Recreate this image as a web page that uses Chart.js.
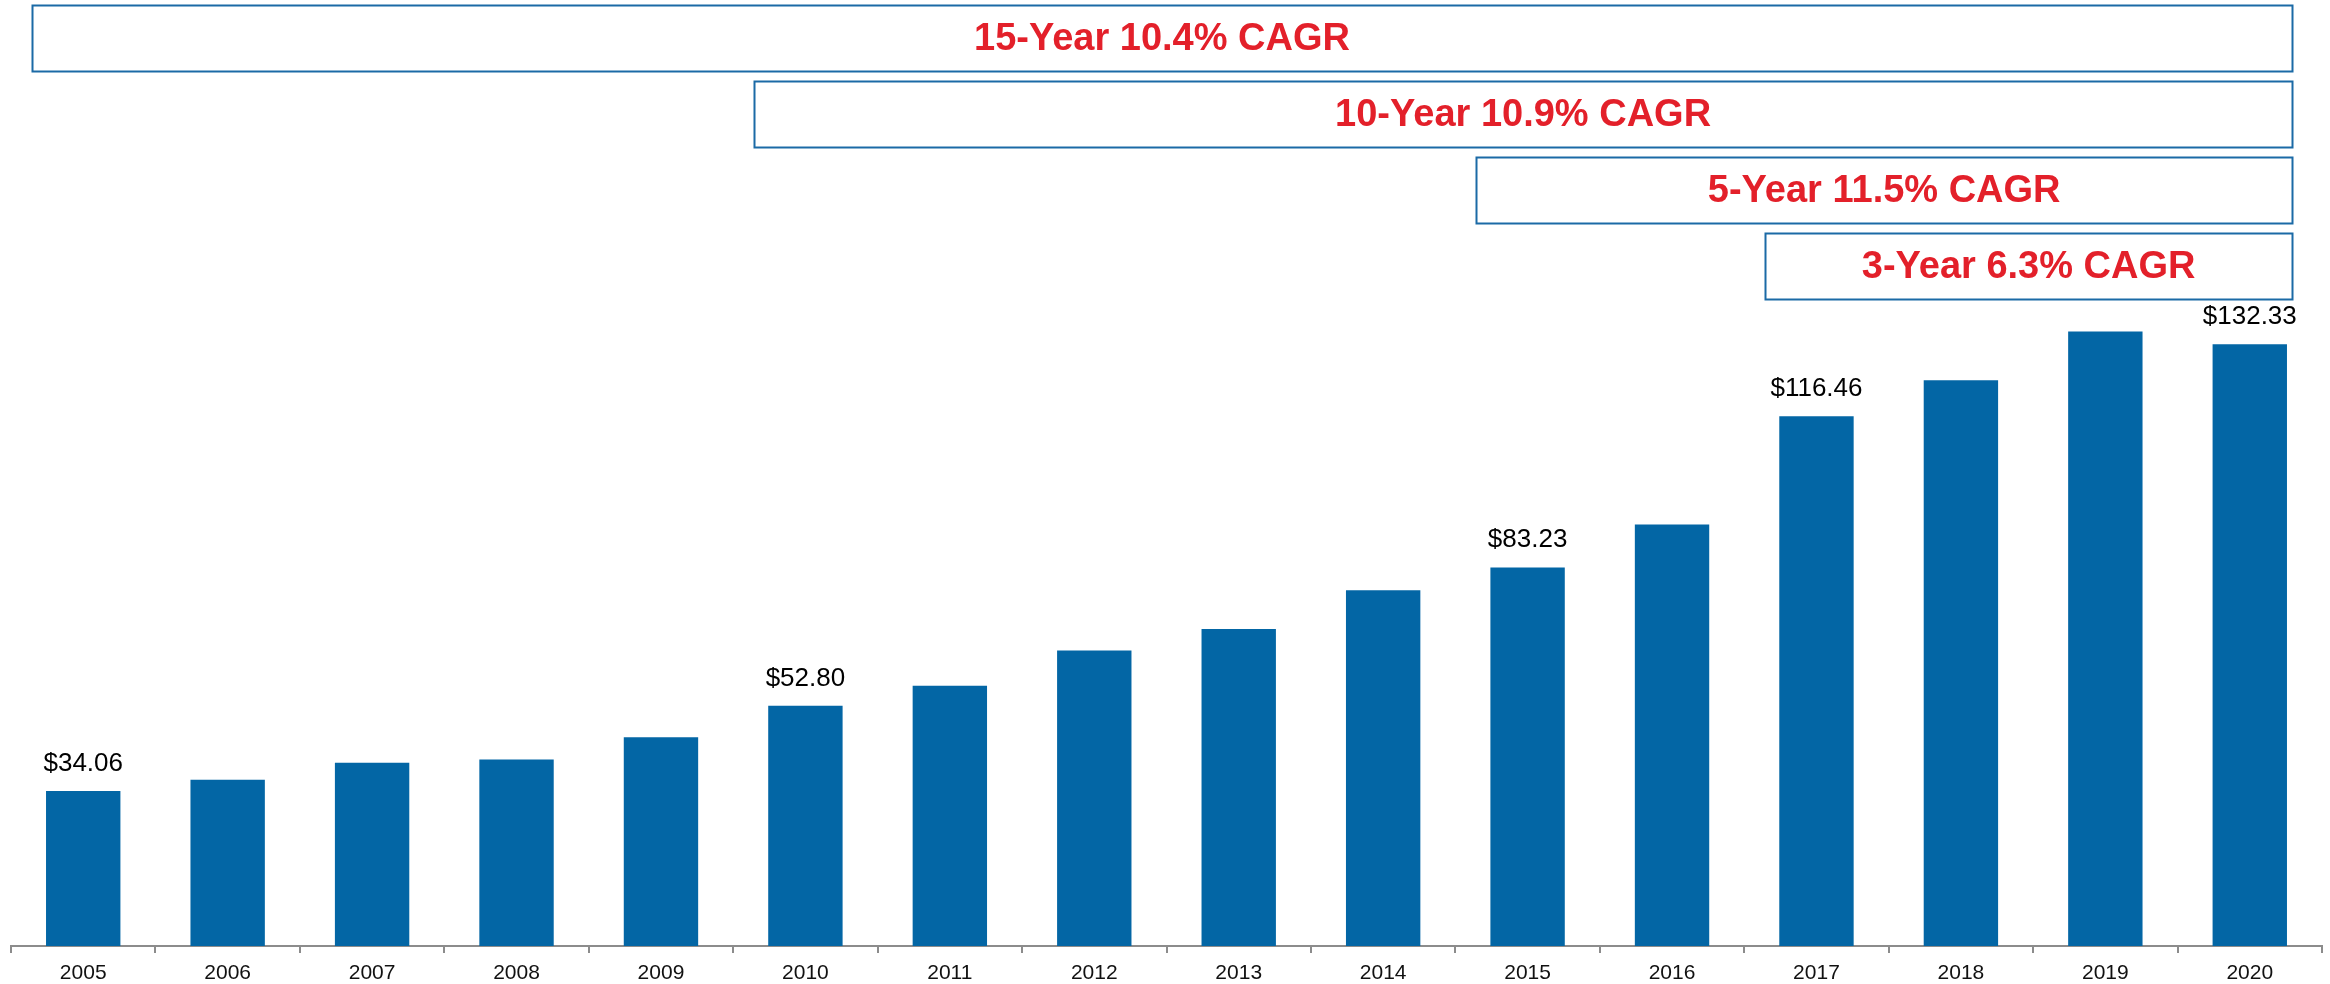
<!DOCTYPE html>
<html>
<head>
<meta charset="utf-8">
<script src="https://cdn.jsdelivr.net/npm/chart.js@4.4.1/dist/chart.umd.min.js"></script>
<style>
  html, body { margin: 0; background: #fff; }
  #wrap { width: 2330px; height: 984px; }
</style>
</head>
<body>
<div id="wrap"><canvas id="chart"></canvas></div>
<script>
const years = ['2005', '2006', '2007', '2008', '2009', '2010', '2011', '2012',
               '2013', '2014', '2015', '2016', '2017', '2018', '2019', '2020'];
const values = [34.06, 36.55, 40.29, 41.0, 45.9, 52.80, 57.2, 65.0,
                69.7, 78.2, 83.23, 92.7, 116.46, 124.4, 135.1, 132.33];
// only these bars carry a value label
const labelledYears = ['2005', '2010', '2015', '2017', '2020'];

const cagrTexts = ['15-Year 10.4% CAGR', '10-Year 10.9% CAGR', '5-Year 11.5% CAGR', '3-Year 6.3% CAGR'];
const cagrFrom  = ['2005', '2010', '2015', '2017'];

const FONT = "'Liberation Sans', Arial, sans-serif";

const valueLabels = {
  id: 'valueLabels',
  afterDatasetsDraw(chart) {
    const { ctx } = chart;
    const meta = chart.getDatasetMeta(0);
    ctx.save();
    ctx.font = '26px ' + FONT;
    ctx.fillStyle = '#000';
    ctx.textAlign = 'center';
    ctx.textBaseline = 'alphabetic';
    years.forEach((yr, i) => {
      if (!labelledYears.includes(yr)) return;
      const bar = meta.data[i];
      ctx.fillText('$' + values[i].toFixed(2), bar.x, bar.y - 20);
    });
    ctx.restore();
  }
};

const cagrBoxes = {
  id: 'cagrBoxes',
  afterDraw(chart) {
    const { ctx } = chart;
    const x = chart.scales.x;
    const catW = x.getPixelForValue(1) - x.getPixelForValue(0);
    const right = x.getPixelForValue(years.length - 1) + catW / 2 - 30;
    ctx.save();
    cagrTexts.forEach((txt, i) => {
      const left = x.getPixelForValue(years.indexOf(cagrFrom[i])) - catW / 2 + 21;
      const top = 5 + i * 76;
      const h = 66;
      ctx.strokeStyle = '#1b6aa6';
      ctx.lineWidth = 2;
      ctx.strokeRect(Math.round(left) + 0.5, top + 0.5, Math.round(right - left), h);
      ctx.font = 'bold 38px ' + FONT;
      ctx.fillStyle = '#e3202a';
      ctx.textAlign = 'center';
      ctx.textBaseline = 'middle';
      ctx.fillText(txt, (left + right) / 2, top + h / 2 + 2);
    });
    ctx.restore();
  }
};

new Chart(document.getElementById('chart'), {
  type: 'bar',
  data: {
    labels: years,
    datasets: [{
      data: values,
      backgroundColor: '#0366a5',
      borderWidth: 0,
      barPercentage: 0.515,
      categoryPercentage: 1
    }]
  },
  options: {
    responsive: true,
    maintainAspectRatio: false,
    animation: false,
    layout: { padding: { left: 11, right: 8, top: 0, bottom: -10 } },
    plugins: { legend: { display: false }, tooltip: { enabled: false } },
    scales: {
      y: { display: false, min: 0, max: 208 },
      x: {
        border: { display: true, color: '#8c8c8c', width: 2 },
        grid: { display: true, drawOnChartArea: false, drawTicks: true, tickLength: 7, color: '#8c8c8c', lineWidth: 2, offset: true },
        ticks: { color: '#111', font: { family: FONT, size: 21, lineHeight: 1 }, padding: 10, maxRotation: 0 }
      }
    }
  },
  plugins: [valueLabels, cagrBoxes]
});
</script>
</body>
</html>
